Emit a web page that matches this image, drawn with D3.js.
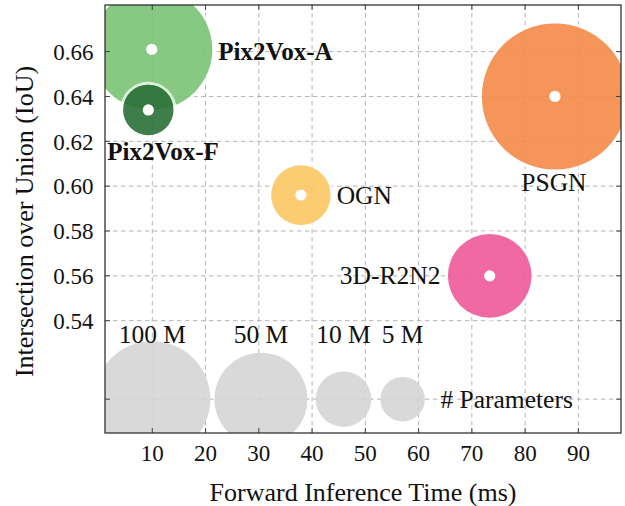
<!DOCTYPE html>
<html>
<head>
<meta charset="utf-8">
<script src="https://cdn.jsdelivr.net/npm/d3@7/dist/d3.min.js"></script>
<style>
  body { margin: 0; background: #fff; }
</style>
</head>
<body>
<svg id="chart" width="625" height="506" font-family="'Liberation Serif', 'Times New Roman', Times, serif"></svg>
<script>
// methods, forward time (ms), IoU, parameters (millions)
const methods  = ["PSGN", "3D-R2N2", "OGN", "Pix2Vox-A", "Pix2Vox-F"];
const timeMs   = [85.6, 73.35, 37.9, 9.9, 9.25];
const iou      = [0.640, 0.560, 0.596, 0.661, 0.634];
const paramsM  = [206, 35.97, 12.46, 114.24, 7.41];
const colors   = ["#f48947", "#ee5999", "#fbc762", "#7ac375", "#2a6f37"];

// size legend
const legendParams = [100, 50, 10, 5];
const legendTime   = [10, 30.4, 45.9, 57.0];
const legendIoU    = 0.505;

const xTicks = [10, 20, 30, 40, 50, 60, 70, 80, 90];
const yTicks = [0.54, 0.56, 0.58, 0.60, 0.62, 0.64, 0.66];

const svg = d3.select("#chart");
const L = 105, R = 621, T = 5, B = 433;

const x = d3.scaleLinear().domain([1.12, 98.0]).range([L, R]);
const y = d3.scaleLinear().domain([0.4899, 0.6808]).range([B, T]);
const r = d3.scalePow().exponent(0.32).domain([0, 100]).range([0, 58]);

svg.append("clipPath").attr("id", "plotClip")
  .append("rect").attr("x", L).attr("y", T).attr("width", R - L).attr("height", B - T);

// grid
const grid = svg.append("g").attr("stroke", "#b3b3b3").attr("stroke-width", 1)
  .attr("stroke-dasharray", "4.5,3.5");
grid.selectAll("line.gx").data(xTicks).enter().append("line")
  .attr("x1", d => x(d)).attr("x2", d => x(d)).attr("y1", T).attr("y2", B);
grid.selectAll("line.gy").data(yTicks.concat([legendIoU])).enter().append("line")
  .attr("y1", d => y(d)).attr("y2", d => y(d)).attr("x1", L).attr("x2", R);

const plot = svg.append("g").attr("clip-path", "url(#plotClip)");

// legend bubbles
plot.selectAll("circle.leg").data(legendParams).enter().append("circle")
  .attr("cx", (d, i) => x(legendTime[i]))
  .attr("cy", y(legendIoU))
  .attr("r", d => r(d))
  .attr("fill", "#d5d5d5").attr("fill-opacity", 0.9);

// method bubbles
const bub = plot.selectAll("g.bub").data(methods).enter().append("g");
// thin white halo just outside each bubble (only shows where it overlaps another one)
bub.append("circle")
  .attr("cx", (d, i) => x(timeMs[i]))
  .attr("cy", (d, i) => y(iou[i]))
  .attr("r", (d, i) => r(paramsM[i]) + 1.5)
  .attr("fill", "none")
  .attr("stroke", "#fff").attr("stroke-opacity", 0.7).attr("stroke-width", 3);
bub.append("circle")
  .attr("cx", (d, i) => x(timeMs[i]))
  .attr("cy", (d, i) => y(iou[i]))
  .attr("r", (d, i) => r(paramsM[i]))
  .attr("fill", (d, i) => colors[i]).attr("fill-opacity", 0.9);
bub.append("circle")
  .attr("cx", (d, i) => x(timeMs[i]))
  .attr("cy", (d, i) => y(iou[i]))
  .attr("r", 5.6)
  .attr("fill", "#fff");

// method labels
const labelPos = {
  "PSGN":      { side: "below", bold: false },
  "3D-R2N2":   { side: "left",  bold: false },
  "OGN":       { side: "right", bold: false },
  "Pix2Vox-A": { side: "right", bold: true },
  "Pix2Vox-F": { side: "belowLeft", bold: true }
};
methods.forEach((m, i) => {
  const cx = x(timeMs[i]), cy = y(iou[i]), rr = r(paramsM[i]);
  const p = labelPos[m];
  let tx = cx, ty = cy + 8.5, anchor = "middle";
  if (p.side === "right") { tx = cx + rr + 6; anchor = "start"; if (p.bold) ty = cy + 10.5; }
  if (p.side === "left")  { tx = cx - rr - 7.5; anchor = "end"; }
  if (p.side === "below") { tx = cx - 1; ty = cy + rr + 21; }
  if (p.side === "belowLeft") { tx = cx - 41; ty = cy + 50; anchor = "start"; }
  svg.append("text")
    .attr("x", tx).attr("y", ty)
    .attr("text-anchor", anchor)
    .attr("font-size", p.bold ? "25px" : "25.5px")
    .attr("font-weight", p.bold ? "bold" : "normal")
    .attr("fill", "#111")
    .text(m);
});

// legend labels
svg.selectAll("text.legl").data(legendParams).enter().append("text")
  .attr("x", (d, i) => x(legendTime[i]))
  .attr("y", y(0.530))
  .attr("text-anchor", "middle")
  .attr("font-size", "25.5px")
  .attr("fill", "#111")
  .text(d => d + " M");
svg.append("text")
  .attr("x", x(64.1)).attr("y", y(legendIoU) + 8.5)
  .attr("font-size", "25.5px")
  .attr("fill", "#111")
  .text("# Parameters");

// ticks (inside, all sides)
const tk = svg.append("g").attr("stroke", "#444").attr("stroke-width", 1);
xTicks.forEach(d => {
  tk.append("line").attr("x1", x(d)).attr("x2", x(d)).attr("y1", B).attr("y2", B - 5);
  tk.append("line").attr("x1", x(d)).attr("x2", x(d)).attr("y1", T).attr("y2", T + 5);
});
yTicks.concat([legendIoU]).forEach(d => {
  tk.append("line").attr("y1", y(d)).attr("y2", y(d)).attr("x1", L).attr("x2", L + 5);
  tk.append("line").attr("y1", y(d)).attr("y2", y(d)).attr("x1", R).attr("x2", R - 5);
});

// frame
svg.append("rect").attr("x", L).attr("y", T).attr("width", R - L).attr("height", B - T)
  .attr("fill", "none").attr("stroke", "#222").attr("stroke-width", 1.2);

// tick labels
svg.selectAll("text.xt").data(xTicks).enter().append("text")
  .attr("x", d => x(d)).attr("y", 460.5)
  .attr("text-anchor", "middle").attr("font-size", "23px").attr("fill", "#111")
  .text(d => d);
svg.selectAll("text.yt").data(yTicks).enter().append("text")
  .attr("x", 93.5).attr("y", d => y(d) + 8.2)
  .attr("text-anchor", "end").attr("font-size", "23px").attr("fill", "#111")
  .text(d => d3.format(".2f")(d));

// axis titles
svg.append("text")
  .attr("x", (L + R) / 2).attr("y", 501)
  .attr("text-anchor", "middle").attr("font-size", "26px").attr("fill", "#111")
  .text("Forward Inference Time (ms)");
svg.append("text")
  .attr("transform", "translate(33,221.5) rotate(-90)")
  .attr("text-anchor", "middle").attr("font-size", "26px").attr("fill", "#111")
  .text("Intersection over Union (IoU)");
</script>
</body>
</html>
